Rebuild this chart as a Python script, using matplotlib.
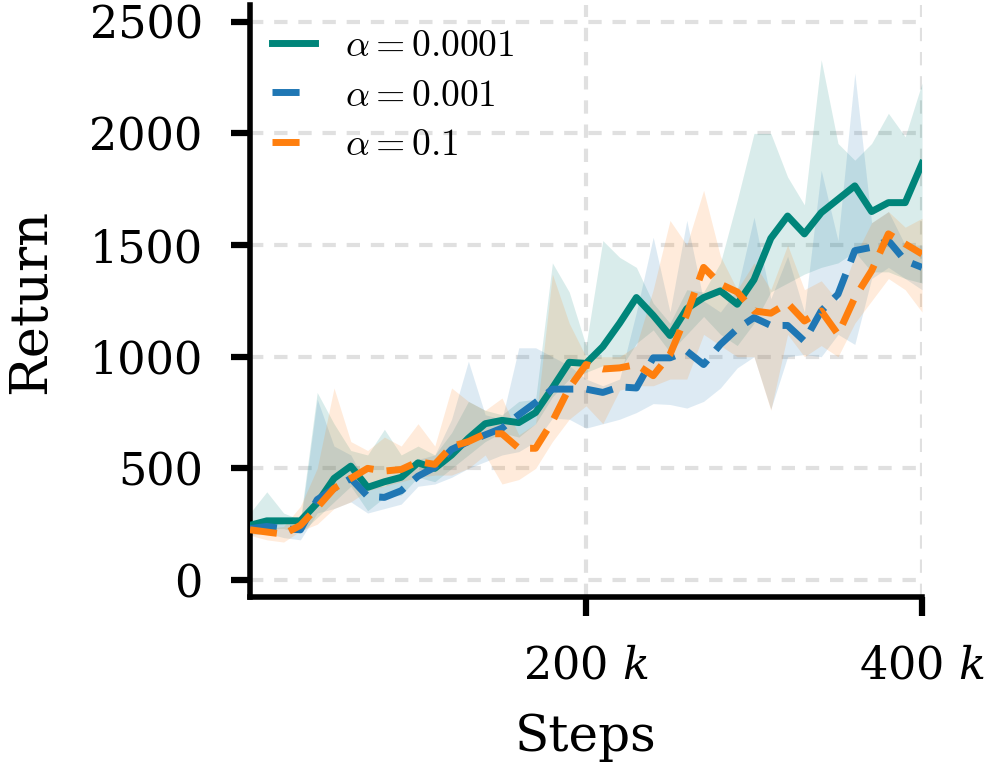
import numpy as np
import matplotlib
matplotlib.use("Agg")
import matplotlib.pyplot as plt
from matplotlib.font_manager import FontProperties
from matplotlib.lines import Line2D

plt.rcParams['font.family'] = 'DejaVu Serif'
plt.rcParams['mathtext.fontset'] = 'dejavuserif'

# steps, every 10 k
steps = np.arange(0, 410000, 10000)

# alpha = 0.0001 (teal)
ret_a4 = [245, 265, 265, 265, 345, 455, 510, 415, 440, 460, 525, 500, 560, 635, 700, 715, 705, 750, 860, 975,
          970, 1045, 1150, 1265, 1185, 1095, 1215, 1265, 1295, 1235, 1345, 1530, 1630, 1550, 1645, 1705, 1765,
          1650, 1690, 1690, 1865]
up_a4 = [300, 395, 300, 270, 840, 700, 580, 560, 675, 560, 600, 560, 660, 800, 760, 740, 800, 810, 1420, 1290,
         1050, 1520, 1445, 1400, 1240, 1150, 1300, 1290, 1420, 1700, 2000, 2000, 1805, 1680, 2330, 1955, 1880,
         1955, 2090, 1985, 2225]
lo_a4 = [210, 230, 230, 210, 280, 350, 420, 310, 370, 380, 460, 440, 500, 560, 620, 660, 640, 700, 820, 900,
         930, 960, 940, 1060, 1120, 1020, 1100, 1180, 1100, 1050, 1150, 1290, 1330, 1370, 1400, 1420, 1470,
         1380, 1380, 1350, 1330]

# alpha = 0.001 (blue)
ret_a3 = [230, 240, 230, 225, 360, 410, 455, 375, 370, 400, 465, 505, 585, 620, 650, 680, 740, 795, 855, 855,
          855, 840, 865, 860, 995, 995, 1025, 965, 1055, 1125, 1175, 1140, 1140, 1070, 1205, 1280, 1475, 1490,
          1520, 1430, 1400]
up_a3 = [250, 270, 250, 250, 810, 600, 560, 420, 420, 480, 540, 560, 720, 980, 740, 720, 1040, 1040, 1000, 960,
         900, 870, 900, 1200, 1535, 1200, 1610, 1250, 1200, 1300, 1625, 1260, 1450, 1200, 1835, 1520, 2270, 1600,
         1650, 1500, 1500]
lo_a3 = [200, 210, 190, 180, 300, 320, 350, 300, 320, 340, 420, 430, 460, 500, 530, 560, 575, 620, 725, 720,
         680, 700, 720, 750, 790, 786, 770, 800, 860, 950, 1000, 765, 1000, 1010, 1000, 1100, 1055, 1350, 1400,
         1350, 1300]

# alpha = 0.1 (orange)
ret_a1 = [225, 215, 205, 245, 325, 410, 455, 500, 488, 495, 530, 518, 598, 620, 655, 655, 590, 590, 710, 860,
          965, 945, 950, 965, 915, 1010, 1190, 1400, 1325, 1290, 1205, 1195, 1240, 1160, 1205, 1100, 1265, 1385,
          1550, 1505, 1460]
up_a1 = [240, 230, 240, 330, 500, 860, 620, 580, 640, 600, 700, 600, 860, 800, 760, 815, 650, 700, 1370, 1150,
         1000, 1000, 1000, 1050, 1300, 1610, 1500, 1745, 1450, 1300, 1420, 1300, 1500, 1300, 1340, 1250, 1450,
         1600, 1650, 1580, 1620]
lo_a1 = [200, 180, 170, 220, 250, 320, 350, 400, 420, 440, 460, 470, 470, 500, 560, 430, 450, 500, 620, 720,
         780, 700, 850, 870, 870, 900, 900, 1100, 1050, 1000, 1000, 760, 1100, 1000, 1050, 1000, 1150, 1250, 1350,
         1300, 1200]

labels = [r'$\alpha = 0.0001$', r'$\alpha = 0.001$', r'$\alpha = 0.1$']
colors = ['#00857a', '#1f77b4', '#ff7f0e']

fig = plt.figure(figsize=(9.94, 7.74), dpi=100)
ax = fig.add_axes([250 / 994, 177 / 774, 672 / 994, 592 / 774])

series = [(ret_a4, lo_a4, up_a4), (ret_a3, lo_a3, up_a3), (ret_a1, lo_a1, up_a1)]
for k, (m, lo, up) in enumerate(series):
    ax.fill_between(steps, lo, up, color=colors[k], alpha=0.15, linewidth=0, zorder=2)
for k, (m, lo, up) in enumerate(series):
    if k == 0:
        ax.plot(steps, m, color=colors[k], lw=5, zorder=3)
    else:
        ax.plot(steps, m, color=colors[k], lw=5, dashes=(3.9, 1.9), zorder=3)

# legend proxies: one dash per dashed handle, like the original
handles = [Line2D([], [], color=colors[0], lw=5),
           Line2D([], [], color=colors[1], lw=5, dashes=(3.9, 10)),
           Line2D([], [], color=colors[2], lw=5, dashes=(3.9, 10))]

ax.set_xlim(0, 400000)
ax.set_ylim(-76, 2575)
ax.set_yticks([0, 500, 1000, 1500, 2000, 2500])
ax.set_xticks([200000, 400000])
ax.set_xticklabels([r'200 $k$', r'400 $k$'])

ax.grid(True, color='#e0e0e0', linestyle=(0, (3.2, 2.6)), linewidth=3, zorder=1)
ax.set_axisbelow(True)

for s in ['top', 'right']:
    ax.spines[s].set_visible(False)
for s in ['left', 'bottom']:
    ax.spines[s].set_linewidth(4)

ax.tick_params(axis='both', which='major', length=14, width=4.5, pad=20, labelsize=32)

ax.set_xlabel('Steps', fontsize=36, labelpad=18)
ax.set_ylabel('Return', fontsize=38, labelpad=24)

leg = ax.legend(handles, labels, loc='upper left', bbox_to_anchor=(272 / 994, 1 - 28 / 774),
                bbox_transform=fig.transFigure, frameon=False, borderpad=0, borderaxespad=0,
                handlelength=1.15, handletextpad=0.8, labelspacing=0.36,
                prop=FontProperties(family='DejaVu Serif', size=27, math_fontfamily='cm'))

fig.savefig('out.png', dpi=100)
